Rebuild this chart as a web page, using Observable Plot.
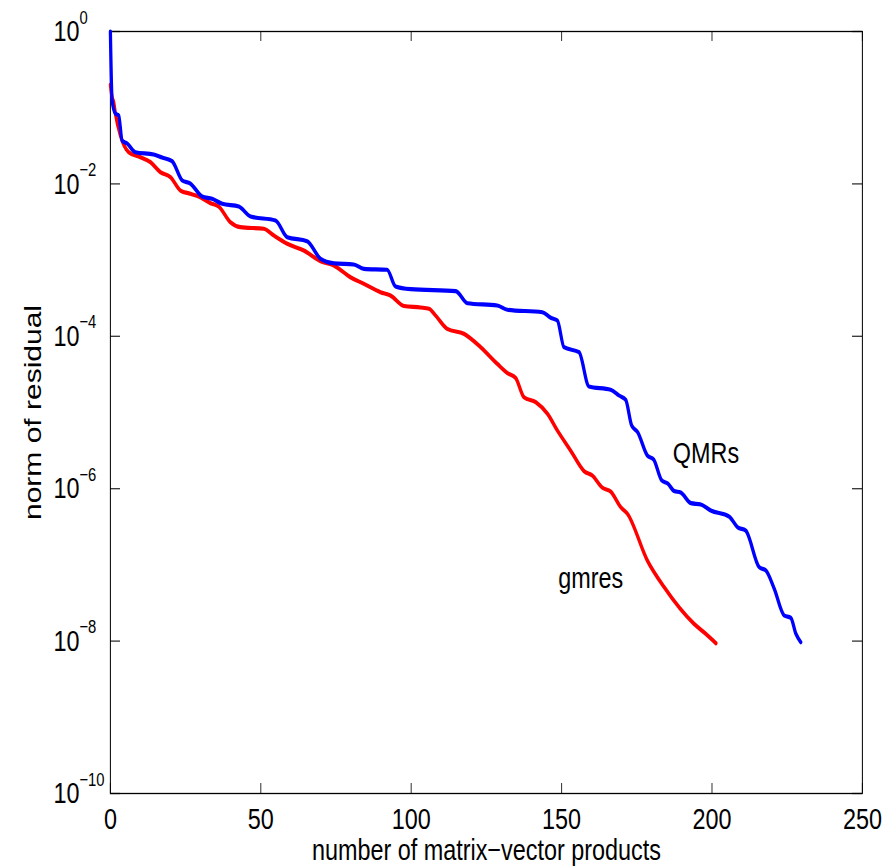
<!DOCTYPE html>
<html>
<head>
<meta charset="utf-8">
<script src="https://cdn.jsdelivr.net/npm/d3@7"></script>
<script src="https://cdn.jsdelivr.net/npm/@observablehq/plot@0.6"></script>
<style>
  html, body { margin: 0; padding: 0; background: #fff; }
  #chart { width: 886px; height: 866px; overflow: hidden; }
</style>
</head>
<body>
<div id="chart"></div>
<script>
// ---- data (residual norms stored as log10 exponents) ----
const qmrsX = [0,0.57,1.66,2.76,3.89,5.56,8.32,14.4,17.2,20.5,23.9,26.6,30.5,33.8,37.2,42.7,46.6,54.9,58.8,65.4,69.9,74.3,80.9,84.3,92.0,94.8,99.8,114.8,118.7,128.6,132.0,143.6,146.4,148.6,150.8,155.8,159.1,166.3,169.1,171.3,173.3,175.3,178.5,180.6,183.3,185.3,187.4,189.6,193.0,196.3,199.6,205.7,208.5,211.2,215.7,217.9,220.7,224.0,226.2,227.9,229.5];
const qmrsLog10 = [0,-0.906,-1.076,-1.102,-1.430,-1.470,-1.584,-1.614,-1.654,-1.702,-1.955,-1.995,-2.165,-2.196,-2.261,-2.297,-2.428,-2.480,-2.699,-2.752,-2.983,-3.041,-3.058,-3.114,-3.127,-3.346,-3.382,-3.408,-3.566,-3.596,-3.652,-3.684,-3.757,-3.793,-4.143,-4.209,-4.659,-4.702,-4.777,-4.833,-5.171,-5.259,-5.564,-5.617,-5.892,-5.932,-6.030,-6.050,-6.190,-6.207,-6.286,-6.365,-6.505,-6.549,-7.030,-7.073,-7.314,-7.664,-7.694,-7.904,-8.014];
const gmresX = [0,0.5,1.1,1.66,3.33,6.09,9.98,13.3,16.6,20.0,23.3,26.6,29.9,33.3,36.0,39.9,43.2,51.0,54.3,58.8,64.3,69.9,74.3,79.8,84.3,89.8,93.1,97.6,103.1,105.9,108.1,112.0,117.5,123.1,128.6,132.0,134.7,137.5,141.4,145.3,148.6,153.0,157.5,160.2,163.6,166.3,169.7,171.9,178.5,184.1,194.0,197.9,201.3];
const gmresLog10 = [-0.7,-0.85,-0.928,-1.076,-1.365,-1.584,-1.650,-1.715,-1.846,-1.912,-2.087,-2.130,-2.175,-2.253,-2.297,-2.503,-2.568,-2.589,-2.677,-2.786,-2.874,-3.014,-3.071,-3.225,-3.312,-3.421,-3.465,-3.602,-3.622,-3.639,-3.727,-3.902,-3.967,-4.143,-4.361,-4.484,-4.545,-4.799,-4.865,-5.017,-5.236,-5.499,-5.770,-5.827,-5.988,-6.037,-6.243,-6.330,-6.942,-7.293,-7.773,-7.904,-8.028];

const xTicks = [0, 50, 100, 150, 200, 250];
const yTickExps = [0, -2, -4, -6, -8, -10];
const yTickExpLabels = ["0", "\u22122", "\u22124", "\u22126", "\u22128", "\u221210"];

const seriesNames = ["QMRs", "gmres"];
const labelX = [198, 159.7];
const labelLog10 = [-5.54, -7.18];

const xLabel = "number of matrix\u2212vector products";
const yLabel = "norm of residual";

// ---- build tables ----
const qmrs = qmrsX.map((x, i) => ({x, y: Math.pow(10, qmrsLog10[i])}));
const gmres = gmresX.map((x, i) => ({x, y: Math.pow(10, gmresLog10[i])}));
const labels = seriesNames.map((name, i) => ({name, x: labelX[i], y: Math.pow(10, labelLog10[i])}));
const yTicks = yTickExps.map((e, i) => ({v: Math.pow(10, e), exp: yTickExpLabels[i]}));

// ---- layout: drawn wide, then compressed horizontally ----
const outW = 886, H = 866;
const W = 1136;
const s = outW / W;
const mL = 110 / s, mR = 24 / s, mT = 31, mB = 73;
const innerW = W - mL - mR, innerH = H - mT - mB;
const tickLenX = 10;
const tickLenY = 10 / s;

const font = "'Liberation Sans', Arial, sans-serif";

const chart = Plot.plot({
  width: W,
  height: H,
  marginLeft: mL,
  marginRight: mR,
  marginTop: mT,
  marginBottom: mB,
  style: {fontFamily: font, fontSize: "30px", background: "#fff", color: "#000"},
  x: {domain: [0, 250], axis: null},
  y: {type: "log", domain: [1e-10, 1], axis: null},
  marks: [
    Plot.tickX(xTicks, {x: d => d, insetTop: innerH - tickLenX, stroke: "#333", strokeWidth: 1.3}),
    Plot.tickX(xTicks, {x: d => d, insetBottom: innerH - tickLenX, stroke: "#333", strokeWidth: 1.3}),
    Plot.tickY(yTicks, {y: "v", insetRight: innerW - tickLenY, stroke: "#333", strokeWidth: 1.3}),
    Plot.tickY(yTicks, {y: "v", insetLeft: innerW - tickLenY, stroke: "#333", strokeWidth: 1.3}),
    Plot.frame({stroke: "#000", strokeWidth: 1.3}),
    Plot.line(gmres, {x: "x", y: "y", stroke: "#ff0000", strokeWidth: 4.2, strokeLinejoin: "round", curve: "monotone-x"}),
    Plot.line(qmrs, {x: "x", y: "y", stroke: "#0000ff", strokeWidth: 4.2, strokeLinejoin: "round", curve: "monotone-x"}),
    Plot.text(xTicks, {x: d => d, frameAnchor: "bottom", text: d => String(d), dy: 26, lineAnchor: "middle", textAnchor: "middle", fontSize: 30, fill: "#000"}),
    Plot.text(yTicks, {y: "v", frameAnchor: "left", text: () => "10", dx: -(110 - 53) / s, textAnchor: "start", lineAnchor: "middle", fontSize: 30, fill: "#000"}),
    Plot.text(yTicks, {y: "v", frameAnchor: "left", text: "exp", dx: -(110 - 79) / s, dy: -14, textAnchor: "start", lineAnchor: "middle", fontSize: 19, fill: "#000"}),
    Plot.text([xLabel], {frameAnchor: "bottom", text: d => d, dy: 57, lineAnchor: "middle", textAnchor: "middle", fontSize: 30, fill: "#000"}),
    Plot.text([yLabel], {frameAnchor: "left", text: d => d, dx: -(110 - 33) / s, rotate: -90, lineAnchor: "middle", textAnchor: "middle", fontSize: 30, fill: "#000"}),
    Plot.text(labels, {x: "x", y: "y", text: "name", lineAnchor: "middle", textAnchor: "middle", fontSize: 30, fill: "#000"})
  ]
});

chart.setAttribute("viewBox", `0 0 ${W} ${H}`);
chart.setAttribute("preserveAspectRatio", "none");
chart.setAttribute("width", outW);
chart.setAttribute("height", H);
chart.style.width = outW + "px";
chart.style.height = H + "px";
chart.style.maxWidth = "none";
chart.style.overflow = "visible";
document.getElementById("chart").appendChild(chart);
</script>
</body>
</html>
